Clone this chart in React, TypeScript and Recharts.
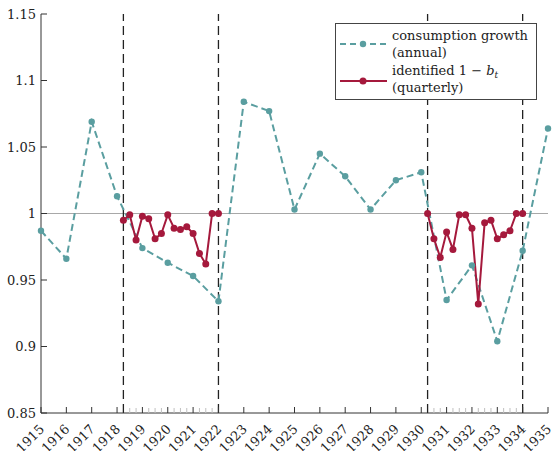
import React from "react";
import {
  LineChart,
  Line,
  XAxis,
  YAxis,
  ReferenceLine,
} from "recharts";

/* ── data ── */

const years = [
  1915, 1916, 1917, 1918, 1919, 1920, 1921, 1922, 1923, 1924, 1925, 1926,
  1927, 1928, 1929, 1930, 1931, 1932, 1933, 1934, 1935,
];
const consumptionGrowth = [
  0.987, 0.966, 1.069, 1.013, 0.974, 0.963, 0.953, 0.934, 1.084, 1.077, 1.003,
  1.045, 1.028, 1.003, 1.025, 1.031, 0.935, 0.961, 0.904, 0.972, 1.064,
];

const quartersA = [
  1918.25, 1918.5, 1918.75, 1919, 1919.25, 1919.5, 1919.75, 1920, 1920.25,
  1920.5, 1920.75, 1921, 1921.25, 1921.5, 1921.75, 1922,
];
const identifiedA = [
  0.995, 0.999, 0.98, 0.998, 0.996, 0.981, 0.985, 0.999, 0.989, 0.988, 0.99,
  0.985, 0.97, 0.962, 1.0, 1.0,
];

const quartersB = [
  1930.25, 1930.5, 1930.75, 1931, 1931.25, 1931.5, 1931.75, 1932, 1932.25,
  1932.5, 1932.75, 1933, 1933.25, 1933.5, 1933.75, 1934,
];
const identifiedB = [
  1.0, 0.981, 0.967, 0.986, 0.973, 0.999, 0.999, 0.989, 0.932, 0.993, 0.995,
  0.981, 0.984, 0.987, 1.0, 1.0,
];

// regime boundaries (dashed verticals)
const regimeLines = [1918.25, 1922, 1930.25, 1934];

// quarterly minor ticks on the bottom axis
const minorTicks = [
  1918.5, 1918.75, 1919.25, 1919.5, 1919.75, 1920.25, 1920.5, 1920.75,
  1921.25, 1921.5, 1921.75, 1930.5, 1930.75, 1931.25, 1931.5, 1931.75,
  1932.25, 1932.5, 1932.75, 1933.25, 1933.5, 1933.75,
];

const yTicks = [0.85, 0.9, 0.95, 1, 1.05, 1.1, 1.15];

const TEAL = "#5a9ea0";
const RED = "#a5193c";
const FONT = "'DejaVu Serif', serif";

const annual = years.map((year, i) => ({ x: year, v: consumptionGrowth[i] }));
const partA = quartersA.map((q, i) => ({ x: q, v: identifiedA[i] }));
const partB = quartersB.map((q, i) => ({ x: q, v: identifiedB[i] }));

/* ── ticks ── */

function BottomTick(props: any) {
  const { x, y, payload } = props;
  const v = payload.value as number;
  const major = Math.abs(v - Math.round(v)) < 1e-6;
  if (!major) {
    return <line x1={x} x2={x} y1={y} y2={y - 5} stroke="#c0c0c0" strokeWidth={1} />;
  }
  const tx = x + 4;
  const ty = y + 17;
  return (
    <g>
      <line x1={x} x2={x} y1={y} y2={y - 6} stroke="#333" strokeWidth={1} />
      <text
        x={tx}
        y={ty}
        textAnchor="end"
        transform={`rotate(-45 ${tx} ${ty})`}
        fontFamily={FONT}
        fontSize={13}
        fill="#222"
      >
        {v}
      </text>
    </g>
  );
}

function TopTick(props: any) {
  const { x, y } = props;
  return <line x1={x} x2={x} y1={y} y2={y + 6} stroke="#333" strokeWidth={1} />;
}

function LeftTick(props: any) {
  const { x, y, payload } = props;
  return (
    <g>
      <line x1={x} x2={x + 6} y1={y} y2={y} stroke="#333" strokeWidth={1} />
      <text
        x={x - 5}
        y={y}
        dy="0.36em"
        textAnchor="end"
        fontFamily={FONT}
        fontSize={13}
        fill="#222"
      >
        {payload.value}
      </text>
    </g>
  );
}

function RightTick(props: any) {
  const { x, y } = props;
  return <line x1={x} x2={x - 6} y1={y} y2={y} stroke="#333" strokeWidth={1} />;
}

/* ── legend ── */

function LegendBox() {
  return (
    <svg
      width={557}
      height={451}
      style={{ position: "absolute", left: 0, top: 0, pointerEvents: "none" }}
    >
      <rect x={335.5} y={23.5} width={201} height={76} fill="#fff" stroke="#444" />
      <line x1={340} x2={387} y1={44} y2={44} stroke={TEAL} strokeWidth={2} strokeDasharray="6 4" />
      <circle cx={363} cy={44} r={3.2} fill={TEAL} />
      <line x1={340} x2={387} y1={81} y2={81} stroke={RED} strokeWidth={2} />
      <circle cx={363} cy={81} r={3.5} fill={RED} />
      <g fontFamily={FONT} fontSize={13} fill="#222">
        <text x={392} y={40}>consumption growth</text>
        <text x={392} y={57}>(annual)</text>
        <text x={392} y={75}>
          identified 1 − <tspan fontStyle="italic">b</tspan>
          <tspan fontStyle="italic" fontSize={9} dy={3}>t</tspan>
        </text>
        <text x={392} y={92}>(quarterly)</text>
      </g>
    </svg>
  );
}

export default function App() {
  const bottomTicks = [...years, ...minorTicks].sort((a, b) => a - b);
  return (
    <div style={{ position: "absolute", left: 0, top: 0, width: 557, height: 451, background: "#fff" }}>
      <LineChart
        width={557}
        height={451}
        margin={{ top: 14, right: 9, left: 0, bottom: 0 }}
      >
        <XAxis
          xAxisId="main"
          dataKey="x"
          type="number"
          domain={[1915, 1935]}
          ticks={bottomTicks}
          interval={0}
          height={38}
          tickSize={0}
          tickMargin={0}
          tickLine={false}
          axisLine={{ stroke: "#333" }}
          tick={<BottomTick />}
        />
        <XAxis
          xAxisId="top"
          orientation="top"
          dataKey="x"
          type="number"
          domain={[1915, 1935]}
          ticks={years}
          interval={0}
          height={0}
          tickSize={0}
          tickMargin={0}
          tickLine={false}
          axisLine={{ stroke: "#555" }}
          tick={<TopTick />}
        />
        <YAxis
          yAxisId="left"
          type="number"
          domain={[0.85, 1.15]}
          ticks={yTicks}
          interval={0}
          width={41}
          tickSize={0}
          tickMargin={0}
          tickLine={false}
          axisLine={{ stroke: "#333" }}
          tick={<LeftTick />}
        />
        <YAxis
          yAxisId="right"
          orientation="right"
          type="number"
          domain={[0.85, 1.15]}
          ticks={yTicks}
          interval={0}
          width={0}
          tickSize={0}
          tickMargin={0}
          tickLine={false}
          axisLine={{ stroke: "#777" }}
          tick={<RightTick />}
        />

        <ReferenceLine xAxisId="main" yAxisId="left" y={1} stroke="#a8a8a8" strokeWidth={1.2} />
        {regimeLines.map((x) => (
          <ReferenceLine
            key={x}
            xAxisId="main"
            yAxisId="left"
            x={x}
            stroke="#222"
            strokeWidth={1.3}
            strokeDasharray="9 5"
          />
        ))}

        <Line
          xAxisId="main"
          yAxisId="left"
          data={annual}
          dataKey="v"
          type="linear"
          stroke={TEAL}
          strokeWidth={2}
          strokeDasharray="7 4"
          dot={{ r: 3.2, fill: TEAL, stroke: "none" }}
          isAnimationActive={false}
        />
        <Line
          xAxisId="main"
          yAxisId="left"
          data={partA}
          dataKey="v"
          type="linear"
          stroke={RED}
          strokeWidth={2}
          dot={{ r: 3.5, fill: RED, stroke: "none" }}
          isAnimationActive={false}
        />
        <Line
          xAxisId="main"
          yAxisId="left"
          data={partB}
          dataKey="v"
          type="linear"
          stroke={RED}
          strokeWidth={2}
          dot={{ r: 3.5, fill: RED, stroke: "none" }}
          isAnimationActive={false}
        />
      </LineChart>
      <LegendBox />
    </div>
  );
}
